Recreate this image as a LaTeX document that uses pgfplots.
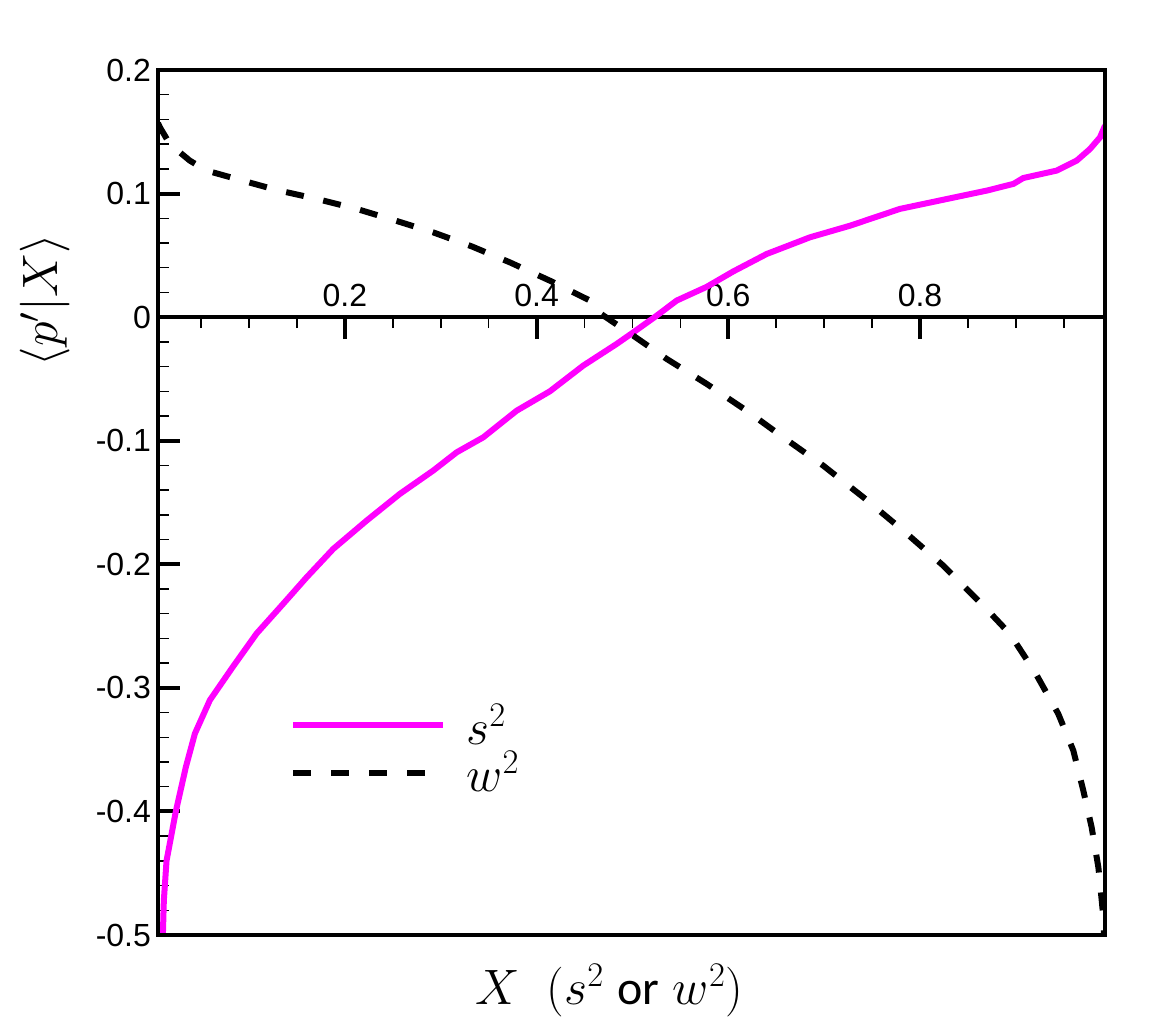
\documentclass[border=0pt]{standalone}
\usepackage{pgfplots}
\pgfplotsset{compat=1.18}
\usepackage{fontspec}
\setmainfont{Liberation Sans}
\newfontfamily\carlito{Carlito}
\definecolor{pinkline}{RGB}{255,0,255}
\begin{document}
\begin{tikzpicture}
\useasboundingbox (-79pt,-43pt) rectangle (508.5pt,467.5pt);
\begin{axis}[
  name=ax,
  at={(0,0)}, anchor=south west,
  scale only axis, width=473.5pt, height=432.5pt,
  xmin=0.005, xmax=0.993, ymin=-0.5, ymax=0.2,
  axis x line*=middle, axis y line*=left,
  axis line style={line width=2pt, black},
  xtick={0.2,0.4,0.6,0.8},
  xticklabels={0.2,0.4,0.6,0.8},
  minor xtick={0.05,0.1,0.15,0.25,0.3,0.35,0.45,0.5,0.55,0.65,0.7,0.75,0.85,0.9,0.95},
  ytick={-0.5,-0.4,-0.3,-0.2,-0.1,0,0.1,0.2},
  yticklabels={-0.5,-0.4,-0.3,-0.2,-0.1,0,0.1,0.2},
  minor y tick num=4,
  xtick align=outside, ytick align=inside,
  major tick length=11pt, minor tick length=5.5pt,
  major tick style={line width=2pt, black},
  minor tick style={line width=0.75pt, black},
  xticklabel style={font=\fontsize{16}{18}\selectfont, anchor=south, yshift=12.5pt},
  yticklabel style={font=\fontsize{16}{18}\selectfont},
  every axis y label/.style={at={(axis description cs:-0.119,0.734)}, rotate=90, anchor=center, font=\fontsize{27}{30}\selectfont},
  every axis x label/.style={at={(axis description cs:0.477,-0.064)}, anchor=center, font=\fontsize{24}{28}\selectfont},
  ylabel={$\langle p'|X\rangle$},
  xlabel={$X\ \ (s^2$ {\carlito or} $w^2)$},
  legend image code/.code={\draw[#1] (0pt,0pt) -- (75pt,0pt); \path (83pt,0pt);},
  legend style={draw=none, fill=none, at={(axis description cs:0.133,0.277)}, anchor=north west,
    font=\fontsize{27}{29}\selectfont, row sep=-2pt},
  legend cell align=left,
]
\addplot[pinkline, line width=3pt] coordinates {
(0.0101,-0.5) (0.0111,-0.472) (0.0139,-0.440) (0.0236,-0.400) (0.0341,-0.364)
(0.0435,-0.337) (0.0591,-0.310) (0.0831,-0.283) (0.1079,-0.256) (0.1356,-0.232)
(0.160,-0.2106) (0.1878,-0.1876) (0.2226,-0.1647) (0.2574,-0.143) (0.2921,-0.1242)
(0.3166,-0.1094) (0.3443,-0.0973) (0.3792,-0.0757) (0.4139,-0.0600) (0.4487,-0.0392)
(0.4835,-0.0217) (0.5009,-0.0123) (0.5253,0.0012) (0.5461,0.0134) (0.5774,0.0245)
(0.6052,0.037) (0.640,0.0511) (0.6852,0.0646) (0.727,0.0740) (0.7791,0.0876)
(0.8243,0.0950) (0.8696,0.1024) (0.8974,0.1078) (0.9078,0.1126) (0.9426,0.1186)
(0.9635,0.1267) (0.9774,0.1361) (0.9878,0.1455) (0.993,0.155)
};
\addlegendentry{$s^2$}
\addplot[black, line width=3pt, dash pattern=on 9pt off 10pt] coordinates {
(0.005,0.157) (0.007,0.1536) (0.0174,0.140) (0.0383,0.1266) (0.0557,0.1186)
(0.087,0.1118) (0.1287,0.1029) (0.1705,0.0957) (0.2122,0.0876) (0.2504,0.0787)
(0.2921,0.0686) (0.3322,0.0573) (0.3722,0.0443) (0.4139,0.0295) (0.4557,0.0134)
(0.4626,0.0050) (0.5009,-0.015) (0.5357,-0.0338) (0.5774,-0.054) (0.6191,-0.0757)
(0.6574,-0.0973) (0.6991,-0.1202) (0.7409,-0.1458) (0.7826,-0.1728) (0.8243,-0.2011)
(0.8661,-0.2335) (0.8939,-0.2564) (0.920,-0.2874) (0.9443,-0.3211) (0.960,-0.3508)
(0.9704,-0.3832) (0.9791,-0.4129) (0.9861,-0.4453) (0.9896,-0.4722) (0.9913,-0.4857)
(0.992,-0.5)
};
\addlegendentry{$w^2$}
\end{axis}
\draw[line width=2pt] (ax.south west) rectangle (ax.north east);
\end{tikzpicture}
\end{document}
